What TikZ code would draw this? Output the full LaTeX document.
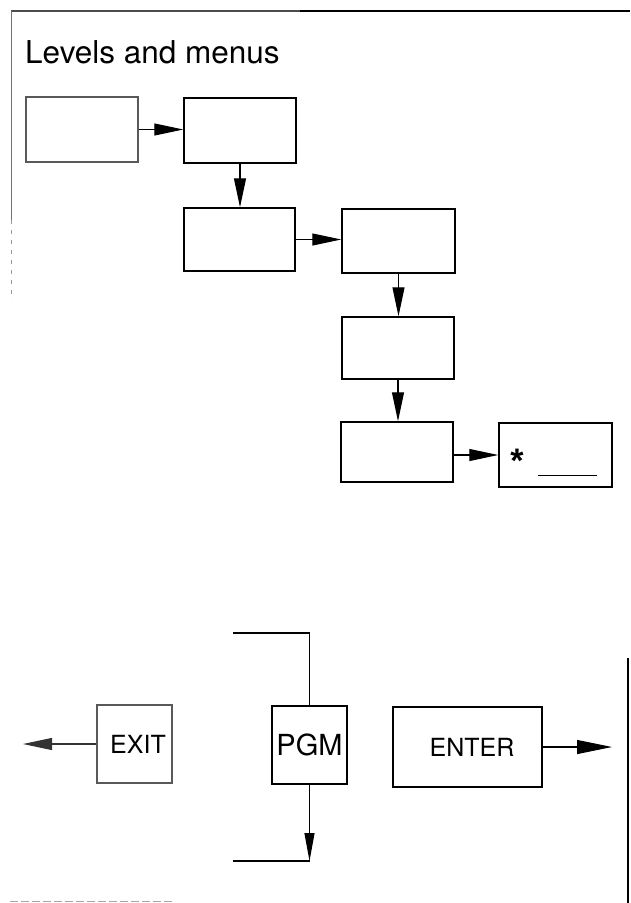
\documentclass[tikz,border=0pt]{standalone}
\usepackage{fontspec}
\setmainfont{TeX Gyre Heros}
\newfontfamily\starfont{Liberation Sans}
\usetikzlibrary{arrows.meta}
\begin{document}
\begin{tikzpicture}[x=1pt,y=-1pt,
  menubox/.style={draw=black, line width=1.5pt, rectangle, inner sep=0pt},
  lightbox/.style={draw=black!65, line width=1.2pt, rectangle, inner sep=0pt},
  keylabel/.style={font=\fontsize{25}{25}\selectfont},
  conn/.style={line width=1.1pt, -{Triangle[length=29pt,width=12pt]}},
  plainline/.style={line width=1.1pt},
  frameline/.style={line width=1.2pt}]
\useasboundingbox (0,0) rectangle (630,903);
% page frame fragments
\draw[frameline, black!70] (11,11) -- (300,11);
\draw[frameline] (300,11) -- (630,11);
\draw[line width=0.9pt, black!55] (11,11) -- (11,220);
\draw[line width=0.8pt, black!40, dash pattern=on 4pt off 6pt] (11,220) -- (11,300);
\draw[line width=1.4pt] (628,658) -- (628,903);
\draw[line width=0.7pt, black!35, dash pattern=on 8pt off 3pt] (10,901) -- (173,901);
% title
\node[anchor=base west, inner sep=0pt, font=\fontsize{31.5}{31.5}\selectfont] (title) at (25,63) {Levels and menus};
% menu levels
\node[lightbox, minimum width=112pt, minimum height=65pt] (b1) at (82,129.5) {};
\node[menubox, minimum width=112pt, minimum height=65pt] (b2) at (240,130.5) {};
\node[menubox, minimum width=111pt, minimum height=63pt] (b3) at (239.5,239.5) {};
\node[menubox, minimum width=113pt, minimum height=64pt] (b4) at (398.5,241) {};
\node[menubox, minimum width=112pt, minimum height=62pt] (b5) at (398,348) {};
\node[menubox, minimum width=112pt, minimum height=60pt] (b6) at (397,452) {};
\node[menubox, minimum width=113pt, minimum height=64pt] (b7) at (555.5,455) {};
\node[anchor=base, inner sep=0pt, font=\starfont\bfseries\fontsize{34}{34}\selectfont] (star) at (517,472) {*};
\coordinate (ulA) at (538,475);
\coordinate (ulB) at (597,475);
\draw[line width=0.9pt] (ulA) -- (ulB);
% level connectors
\draw[conn] (b1.east) -- (b1.east -| b2.west);
\draw[conn] (b2.south) -- (b2.south |- b3.north);
\draw[conn] (b3.east) -- (b3.east -| b4.west);
\draw[conn] (b4.south) -- (b4.south |- b5.north);
\draw[conn] (b5.south) -- (b5.south |- b6.north);
\draw[conn] (b7.west -| b6.east) -- (b7.west);
% keys
\node[lightbox, keylabel, minimum width=75pt, minimum height=78pt] (exit) at (134.5,744) {\hspace{7pt}EXIT};
\node[menubox, minimum width=75pt, minimum height=78pt, font=\fontsize{29}{29}\selectfont] (pgm) at (309.5,745) {PGM};
\node[menubox, keylabel, minimum width=149pt, minimum height=80pt] (enter) at (467.5,747) {\hspace{9pt}ENTER};
\coordinate (exitend) at (23,744);
\coordinate (ptop) at (233,633);
\coordinate (pbot) at (233,861);
\coordinate (enterend) at (612,747);
\draw[conn, draw=black!80] (exit.west) -- (exitend);
\draw[plainline] (pgm.north) |- (ptop);
\draw[conn, -{Triangle[length=28pt,width=10pt]}] (pgm.south) -- (pgm.south |- pbot);
\draw[plainline] (pgm.south |- pbot) -- (pbot);
\draw[conn, -{Triangle[length=35pt,width=14pt]}] (enter.east) -- (enterend);
\end{tikzpicture}
\end{document}
